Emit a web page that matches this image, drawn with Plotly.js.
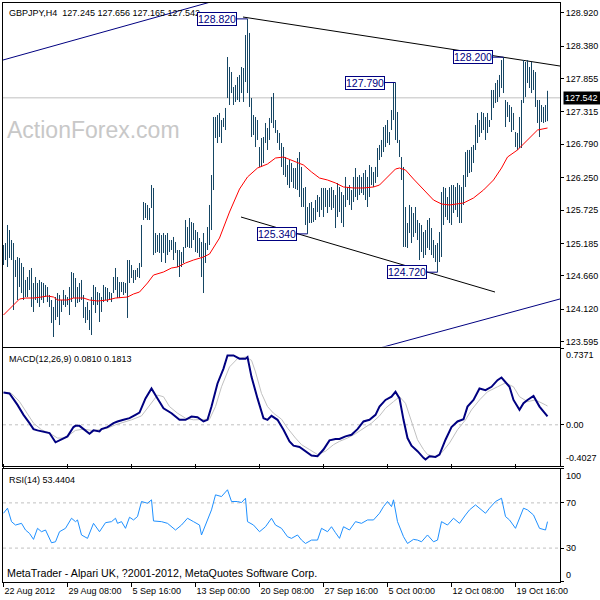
<!DOCTYPE html>
<html><head><meta charset="utf-8">
<script src="https://cdn.plot.ly/plotly-3.0.1.min.js"></script>
<style>html,body{margin:0;padding:0;background:#fff}#chart{width:600px;height:600px}</style>
</head><body><div id="chart"></div>
<script>
const symbol = 'GBPJPY,H4';
const lastOHLC = [127.245, 127.656, 127.165, 127.542];

const high = [125.160,125.192,125.484,125.403,125.241,125.192,124.917,124.966,124.950,124.869,
124.804,124.594,124.642,124.755,124.788,124.545,124.642,124.545,124.594,124.561,
124.545,124.513,124.480,124.351,124.270,124.157,124.318,124.383,124.351,124.270,
124.432,124.351,124.318,124.480,124.723,124.707,124.626,124.480,124.545,124.594,
124.351,124.157,124.237,124.108,124.318,124.513,124.480,124.399,124.383,124.318,
124.513,124.480,124.464,124.399,124.383,124.642,124.788,124.642,124.561,124.561,
124.561,124.545,124.917,124.917,124.836,124.755,124.755,124.788,124.869,125.484,
125.856,125.840,125.808,125.759,126.131,126.083,125.354,125.322,125.354,125.322,
125.354,125.322,125.354,125.241,125.241,125.290,125.209,125.079,125.079,125.047,
125.128,125.565,125.451,125.597,125.532,125.516,125.403,125.370,125.273,125.209,
125.354,125.192,125.451,125.808,126.293,127.232,127.232,127.264,127.297,127.183,
127.216,127.378,128.203,128.041,127.960,127.717,127.750,127.879,127.912,128.041,
128.025,128.559,128.820,128.592,127.539,127.264,127.232,127.183,126.746,126.892,
126.908,127.135,127.054,127.216,127.556,127.620,127.183,127.021,126.973,126.811,
126.746,126.584,126.455,126.536,126.487,126.406,126.406,126.568,126.665,126.423,
126.083,126.099,125.775,125.840,125.856,125.759,125.888,125.969,125.937,126.083,
126.083,126.083,126.050,126.083,126.099,126.050,125.969,126.164,126.099,126.018,
125.969,126.261,126.099,126.131,126.050,126.261,126.406,126.261,126.293,126.261,
126.325,126.374,126.261,126.455,126.423,126.342,126.423,126.730,126.779,126.860,
127.070,127.102,127.183,126.989,127.345,127.782,127.790,127.313,126.860,126.584,
126.423,125.775,125.516,125.808,125.775,125.678,125.775,125.565,125.516,125.484,
125.370,125.403,125.565,125.597,125.435,125.241,125.160,125.192,125.370,126.018,
126.099,126.083,125.937,126.099,126.131,126.131,126.099,126.164,126.131,126.099,
126.293,126.665,126.698,126.698,126.746,126.779,127.102,127.297,127.183,127.313,
127.297,127.232,127.297,127.183,127.669,127.669,127.782,127.831,127.912,128.154,
128.200,127.507,127.475,127.426,127.394,127.297,126.989,126.973,127.232,127.507,
128.154,128.122,128.154,128.041,128.122,127.993,127.960,127.507,127.507,127.426,
127.394,127.426,127.656];

const low = [124.836,124.917,124.804,124.950,124.917,124.108,124.642,124.270,124.480,124.383,
124.270,124.318,124.318,124.432,124.157,124.076,124.270,124.221,124.157,124.270,
124.221,124.318,124.237,124.157,123.898,123.671,123.946,123.995,123.865,124.076,
124.189,124.157,124.189,124.027,124.237,124.302,124.157,124.221,124.237,124.270,
123.979,123.898,123.946,123.784,123.703,124.189,124.059,124.189,123.914,124.076,
124.237,124.270,124.237,124.270,124.237,124.383,124.432,124.302,124.302,124.399,
124.351,124.383,123.979,124.545,124.626,124.545,124.594,124.642,124.626,124.804,
125.565,125.597,125.565,125.565,125.759,124.998,125.031,125.047,125.031,124.885,
125.031,124.869,124.998,125.047,125.079,124.917,125.031,124.804,124.642,124.804,
124.869,125.112,125.128,125.112,125.112,125.241,125.047,125.031,124.966,124.642,
124.383,124.869,125.079,125.160,125.403,126.050,126.892,126.811,126.908,126.811,
127.070,127.021,127.539,127.426,127.620,127.426,127.475,127.507,127.475,127.620,
127.475,127.798,127.620,127.394,126.908,126.940,126.746,126.860,126.423,126.423,
126.487,126.811,126.698,126.860,127.135,127.054,126.973,126.811,126.698,126.423,
126.293,126.261,126.131,126.083,126.180,126.083,126.066,126.050,125.937,125.775,
125.775,125.484,125.340,125.516,125.516,125.532,125.565,125.694,125.613,125.727,
125.613,125.775,125.678,125.775,125.727,125.759,125.435,125.613,125.694,125.516,
125.451,125.775,125.888,125.808,125.727,125.856,125.937,125.888,125.969,126.002,
125.969,125.888,125.775,125.937,126.131,126.099,126.164,126.261,126.536,126.584,
126.665,126.746,126.811,126.779,127.021,127.183,126.860,126.811,126.584,126.212,
125.128,125.128,125.112,125.354,125.192,125.290,125.354,125.241,124.917,125.047,
124.950,124.998,125.112,125.079,124.998,124.950,124.885,124.720,124.885,124.966,
125.484,125.613,125.565,125.516,125.484,125.678,125.727,125.613,125.516,125.516,
125.808,126.099,126.261,126.325,126.342,126.487,126.698,126.811,126.908,126.973,
127.021,126.860,126.973,127.070,127.183,127.378,127.458,127.475,127.556,127.701,
127.620,127.070,127.232,127.151,126.989,127.021,126.746,126.698,126.730,126.730,
127.458,127.556,127.782,127.701,127.620,127.669,127.394,127.135,126.908,127.151,
127.135,127.151,127.165];

const maIdx = [0,4,6,8,11,15,19,22,25,27,32,35,40,43,47,52,56,62,65,68,72,75,80,84,87,91,95,100,103,108,113,118,122,127,132,136,140,144,148,150,154,158,162,166,170,175,180,185,188,192,196,198,201,205,210,215,219,223,230,235,240,245,249,252,257,262,267,272];
const maVal = [124.027,124.157,124.221,124.286,124.302,124.302,124.318,124.335,124.318,124.270,124.270,124.302,124.302,124.270,124.254,124.270,124.302,124.318,124.367,124.399,124.545,124.674,124.723,124.788,124.804,124.869,124.917,124.966,125.014,125.273,125.694,126.066,126.261,126.406,126.471,126.568,126.584,126.536,126.487,126.455,126.342,126.244,126.212,126.164,126.099,126.083,126.083,126.099,126.131,126.261,126.390,126.406,126.374,126.228,126.050,125.888,125.824,125.808,125.840,125.921,126.050,126.212,126.406,126.584,126.698,126.860,127.021,127.054];

const macdIdx = [0,3,7,10,13,15,17,20,23,26,29,32,35,36,38,40,43,45,48,49,52,55,57,60,63,66,68,71,74,77,80,84,88,91,94,97,100,102,104,107,110,112,115,118,121,122,124,127,130,132,134,137,140,143,145,148,151,154,157,160,163,166,168,171,174,177,180,183,186,188,191,194,196,198,200,202,204,207,210,211,213,216,218,221,224,227,230,232,235,238,241,244,247,249,253,255,258,260,262,265,268,272];
const macdVal = [0.313,0.303,0.192,0.096,0.016,-0.042,-0.054,-0.064,-0.080,-0.169,-0.144,-0.112,-0.022,-0.010,-0.010,-0.042,-0.086,-0.054,-0.064,-0.042,-0.022,0.016,0.032,0.048,0.064,0.096,0.118,0.255,0.351,0.255,0.160,0.112,0.048,0.048,0.080,0.073,0.032,0.048,0.176,0.399,0.543,0.670,0.670,0.639,0.639,0.655,0.463,0.255,0.064,0.048,0.086,0.048,-0.048,-0.160,-0.201,-0.214,-0.255,-0.297,-0.303,-0.239,-0.150,-0.137,-0.137,-0.112,-0.096,-0.042,0.032,0.048,0.096,0.176,0.240,0.271,0.319,0.255,0.048,-0.128,-0.201,-0.255,-0.319,-0.335,-0.303,-0.310,-0.287,-0.144,-0.022,0.032,0.054,0.176,0.240,0.351,0.335,0.367,0.431,0.457,0.367,0.240,0.144,0.208,0.240,0.278,0.176,0.081];

const sigIdx = [0,4,8,12,15,19,23,27,30,33,36,40,44,48,52,56,59,64,69,73,77,80,83,87,91,95,100,103,106,109,113,117,121,124,126,129,132,135,139,142,146,149,153,157,161,165,168,172,176,180,184,188,191,195,198,201,204,207,210,212,216,219,223,227,231,234,238,242,247,251,255,258,262,266,271,272];
const sigVal = [0.313,0.303,0.224,0.112,0.016,-0.048,-0.080,-0.128,-0.128,-0.096,-0.054,-0.042,-0.054,-0.048,-0.032,0.000,0.016,0.048,0.086,0.192,0.287,0.271,0.176,0.112,0.064,0.048,0.048,0.054,0.176,0.367,0.559,0.639,0.655,0.623,0.511,0.303,0.176,0.112,0.054,-0.032,-0.128,-0.192,-0.239,-0.287,-0.255,-0.192,-0.160,-0.128,-0.086,-0.032,0.016,0.086,0.160,0.224,0.271,0.208,0.032,-0.144,-0.239,-0.287,-0.310,-0.271,-0.176,-0.048,0.048,0.144,0.240,0.319,0.367,0.405,0.367,0.271,0.224,0.240,0.192,0.1813];

const rsiIdx = [0,2,4,6,9,11,13,15,17,19,21,24,26,28,31,34,36,37,39,42,45,48,51,54,56,57,59,61,63,65,67,69,72,74,75,79,82,86,89,92,95,98,99,101,104,106,109,112,114,117,119,121,122,125,128,131,134,136,139,142,144,147,149,151,154,157,159,162,164,166,168,170,173,176,179,182,185,188,190,192,194,195,197,200,202,205,207,209,212,215,217,219,222,225,228,231,233,236,239,241,243,246,249,251,253,256,260,262,265,268,271,272];
const rsiVal = [60.8,65.3,53.4,50.4,51.9,46.0,43.0,37.7,47.5,44.5,46.0,34.7,35.6,44.5,47.5,56.4,53.4,54.9,41.6,38.6,51.9,44.5,52.5,53.4,56.4,51.9,53.4,47.5,57.3,54.9,57.9,71.2,69.7,72.7,54.0,53.4,51.9,46.0,50.4,56.4,53.4,50.4,41.6,50.4,63.8,77.1,75.6,81.6,71.2,71.2,70.3,74.1,53.4,50.4,44.5,48.9,56.4,50.4,47.5,40.1,38.6,41.6,37.1,34.1,37.1,37.1,47.5,44.5,48.9,43.6,38.6,48.9,46.0,53.4,51.9,54.9,54.9,60.8,66.7,71.2,66.7,72.7,53.4,40.1,34.1,37.7,37.1,35.6,41.6,35.6,37.1,53.4,50.4,56.4,51.9,59.3,63.8,68.2,63.8,60.8,65.3,71.2,74.1,57.9,54.9,47.5,65.3,63.8,59.3,47.5,46.0,53.4];

const priceTicks = [128.920,128.380,127.855,127.315,126.790,126.250,125.725,125.185,124.660,124.120,123.595];
const dateTickIdx = [0,32,64,96,128,160,192,224,256];
const dateTickText = ['22 Aug 2012','29 Aug 08:00','5 Sep 16:00','13 Sep 00:00','20 Sep 08:00','27 Sep 16:00','5 Oct 00:00','12 Oct 08:00','19 Oct 16:00'];

const swingIdx = [122,196,250,152,217];
const swingPrice = [128.820,127.790,128.200,125.340,124.720];

const resistIdx = [119.75,278.25], resistPrice = [128.850,128.057];
const supportIdx = [118.75,245.75], supportPrice = [125.613,124.399];
const chanUpIdx = [-0.25,140], chanUpPrice = [128.154,129.423];
const chanLoIdx = [180,280], chanLoPrice = [123.422,124.302];

const macdLast = [0.0810, 0.1813];
const macdScale = [0.7371, 0.00, -0.4027];
const rsiLast = 53.4404;
const rsiLevels = [100, 70, 30, 0];

const F = 'Liberation Sans, Arial, sans-serif';
const barX = [], barY = [];
high.forEach((h, i) => { barX.push(i, i, null); barY.push(low[i], h, null); });

const traces = [
  {type:'scatter', mode:'lines', x:chanUpIdx, y:chanUpPrice, line:{color:'#000080', width:1}, xaxis:'x', yaxis:'y', hoverinfo:'skip'},
  {type:'scatter', mode:'lines', x:chanLoIdx, y:chanLoPrice, line:{color:'#000080', width:1}, xaxis:'x', yaxis:'y', hoverinfo:'skip'},
  {type:'scatter', mode:'lines', x:resistIdx, y:resistPrice, line:{color:'#000000', width:1}, xaxis:'x', yaxis:'y', hoverinfo:'skip'},
  {type:'scatter', mode:'lines', x:supportIdx, y:supportPrice, line:{color:'#000000', width:1}, xaxis:'x', yaxis:'y', hoverinfo:'skip'},
  {type:'scatter', mode:'lines', x:barX, y:barY, line:{color:'#164664', width:1}, connectgaps:false, xaxis:'x', yaxis:'y', hoverinfo:'skip'},
  {type:'scatter', mode:'lines', x:maIdx, y:maVal, line:{color:'#ff0000', width:1}, xaxis:'x', yaxis:'y', hoverinfo:'skip'},
  {type:'scatter', mode:'lines', x:sigIdx, y:sigVal, line:{color:'#c0c0c0', width:1}, xaxis:'x', yaxis:'y2', hoverinfo:'skip'},
  {type:'scatter', mode:'lines', x:macdIdx, y:macdVal, line:{color:'#000080', width:2}, xaxis:'x', yaxis:'y2', hoverinfo:'skip'},
  {type:'scatter', mode:'lines', x:rsiIdx, y:rsiVal, line:{color:'#1e90ff', width:1}, xaxis:'x', yaxis:'y3', hoverinfo:'skip'}
];

const shapes = [
  {type:'line', xref:'paper', x0:0, x1:1, yref:'y', y0:lastOHLC[3], y1:lastOHLC[3], line:{color:'#c0c0c0', width:1}, layer:'below'},
  {type:'line', xref:'paper', x0:0, x1:1, yref:'y2', y0:macdScale[1], y1:macdScale[1], line:{color:'#c0c0c0', width:1, dash:'3px,3px'}, layer:'below'},
  {type:'line', xref:'paper', x0:0, x1:1, yref:'y3', y0:rsiLevels[1], y1:rsiLevels[1], line:{color:'#c0c0c0', width:1, dash:'3px,3px'}, layer:'below'},
  {type:'line', xref:'paper', x0:0, x1:1, yref:'y3', y0:rsiLevels[2], y1:rsiLevels[2], line:{color:'#c0c0c0', width:1, dash:'3px,3px'}, layer:'below'}
];

const ann = [];
ann.push({xref:'paper', yref:'paper', x:0, y:1, xanchor:'left', yanchor:'top', xshift:4, yshift:-3, showarrow:false,
  text: symbol + '\u00a0\u00a0' + lastOHLC.map(v => v.toFixed(3)).join(' '), font:{family:F, size:9, color:'#000'}});
ann.push({xref:'paper', yref:'y domain', x:0, y:0.63, xanchor:'left', yanchor:'middle', xshift:2, showarrow:false,
  text:'ActionForex.com', font:{family:F, size:23, color:'#c8c8c8'}});
swingIdx.forEach((ix, k) => ann.push({xref:'x', yref:'y', x:ix, y:swingPrice[k], text:swingPrice[k].toFixed(3),
  showarrow:true, arrowhead:0, arrowwidth:1, arrowcolor:'#000080', ax:-31, ay:0, standoff:0,
  bordercolor:'#000080', borderwidth:1, borderpad:0, bgcolor:'#ffffff', font:{family:F, size:10.5, color:'#000080'}}));
ann.push({xref:'paper', yref:'y', x:1, y:lastOHLC[3], xanchor:'left', yanchor:'middle', xshift:3, showarrow:false,
  text:lastOHLC[3].toFixed(3) + '\u00a0', bgcolor:'#000000', borderpad:1, font:{family:F, size:9, color:'#ffffff'}});
ann.push({xref:'paper', yref:'y2 domain', x:0, y:1, xanchor:'left', yanchor:'top', xshift:4, yshift:-4, showarrow:false,
  text:'MACD(12,26,9) ' + macdLast[0].toFixed(4) + ' ' + macdLast[1].toFixed(4), font:{family:F, size:9, color:'#000'}});
ann.push({xref:'paper', yref:'y3 domain', x:0, y:1, xanchor:'left', yanchor:'top', xshift:4, yshift:-4, showarrow:false,
  text:'RSI(14) ' + rsiLast.toFixed(4), font:{family:F, size:9, color:'#000'}});
ann.push({xref:'paper', yref:'y3 domain', x:0, y:0, xanchor:'left', yanchor:'bottom', xshift:2, yshift:1, showarrow:false,
  text:'MetaTrader - Alpari UK, ?2001-2012, MetaQuotes Software Corp.', font:{family:F, size:10.7, color:'#000'}});
macdScale.forEach((v, k) => ann.push({xref:'paper', yref:'y2', x:1, y:v, xanchor:'left',
  yanchor: k === 0 ? 'top' : (k === 2 ? 'bottom' : 'middle'), xshift:4, yshift: k === 2 ? 1 : 0, showarrow:false,
  text: v === 0 ? '0.00' : String(v), font:{family:F, size:9, color:'#000'}}));
rsiLevels.forEach((v, k) => ann.push({xref:'paper', yref:'y3', x:1, y:v, xanchor:'left',
  yanchor: v === 100 ? 'top' : (v === 0 ? 'bottom' : 'middle'), xshift:4, showarrow:false,
  text:String(v), font:{family:F, size:9, color:'#000'}}));

const yBase = {side:'right', showgrid:false, zeroline:false, showline:true, mirror:true, linecolor:'#000', linewidth:1,
  ticks:'outside', ticklen:3, tickcolor:'#000', tickfont:{family:F, size:9, color:'#000'}};

const layout = {
  width:600, height:600, margin:{l:3, r:40, t:3, b:18}, paper_bgcolor:'#fff', plot_bgcolor:'#fff',
  showlegend:false, hovermode:false,
  xaxis:{domain:[0,1], anchor:'y3', range:[-0.25, 278.25], showgrid:false, zeroline:false, showline:true, mirror:'all',
    linecolor:'#000', linewidth:1, tickmode:'array', tickvals:dateTickIdx, ticktext:dateTickText,
    ticks:'outside', ticklen:4, tickcolor:'#000', ticklabelposition:'outside right',
    tickfont:{family:F, size:9, color:'#000'}},
  yaxis:Object.assign({}, yBase, {domain:[0.4067,1], range:[123.517,129.077], tickmode:'array',
    tickvals:priceTicks, ticktext:priceTicks.map(v => v.toFixed(3))}),
  yaxis2:Object.assign({}, yBase, {domain:[0.1995,0.4033], range:[macdScale[2], macdScale[0]], tickmode:'array',
    tickvals:macdScale, showticklabels:false}),
  yaxis3:Object.assign({}, yBase, {domain:[0,0.1952], range:[0,100], tickmode:'array',
    tickvals:rsiLevels, showticklabels:false}),
  shapes:shapes, annotations:ann
};

Plotly.newPlot('chart', traces, layout, {displayModeBar:false, staticPlot:true});
</script></body></html>
